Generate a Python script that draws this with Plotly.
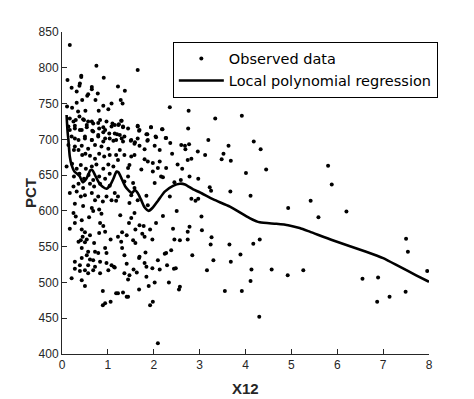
import plotly.graph_objects as go

x_obs = [
    2.76, 3.34, 3.92, 2.75, 3.19, 4.18, 3.63, 4.33, 2.77, 2.68, 2.60, 2.69, 2.96, 3.12, 3.52, 3.48,
    3.68, 2.82, 2.74, 2.62, 4.45, 4.01, 2.78, 2.97, 2.59, 3.22, 3.25, 3.67, 4.11, 2.82, 2.97, 2.91,
    4.93, 3.04, 2.78, 2.74, 3.05, 2.74, 2.57, 3.26, 3.24, 3.65, 4.17, 4.31, 2.84, 3.89, 3.30, 3.68,
    3.16, 4.13, 4.57, 5.26, 4.92, 4.11, 2.57, 3.55, 3.92, 4.30,
    5.80, 5.88, 5.42, 5.59, 6.20, 7.50, 7.54, 6.55, 6.89, 7.96, 7.49, 6.87, 7.14,
    0.17, 0.75, 1.65, 0.12, 0.42, 0.42, 0.39, 0.38, 0.91, 1.22, 0.21, 0.65, 0.65, 1.37, 0.32, 0.57,
    0.55, 0.78, 0.44, 0.73, 1.28, 1.32, 0.32, 0.90, 1.01, 0.11, 0.22, 1.08, 0.80, 2.35, 0.35, 0.51,
    1.30, 1.10, 1.23, 1.33, 1.65, 1.94, 2.19, 1.68, 1.86, 2.05, 2.26, 1.50, 1.59, 1.86, 2.36, 1.20,
    1.03, 0.90, 0.90, 0.79, 0.65, 0.54, 0.48, 0.38, 0.25, 0.28, 0.17, 0.39, 0.66, 0.79, 0.28, 0.50,
    0.65, 0.94, 1.12, 1.30,
    0.26, 0.36, 0.44, 0.51, 0.61, 0.72, 0.81, 0.92, 1.04, 0.10, 0.22, 0.32, 0.41, 0.52, 0.65, 0.75,
    0.90, 1.01, 1.12, 0.26, 0.38, 0.48, 0.58, 0.68, 0.81, 0.94, 1.04, 0.25, 0.36, 0.46, 0.61, 0.70,
    0.83, 1.04, 0.17, 0.30, 0.46, 0.57, 0.68, 0.83, 0.97, 0.14, 0.28, 0.43, 0.54, 0.68, 0.81, 0.94,
    1.08, 0.21, 0.36, 0.50, 0.65, 0.79, 0.90, 1.04, 0.14, 0.28, 0.43, 0.57, 0.72, 0.86, 1.01,
    0.17, 0.32, 0.41, 0.50, 0.65, 0.72, 0.79, 0.89, 0.97, 1.08, 0.28, 0.46, 0.65, 0.68, 0.81, 0.86,
    0.25, 0.30, 0.43, 0.59, 0.28, 0.17, 0.43, 0.50, 0.45, 0.61, 0.83, 0.90, 0.81, 0.94, 1.06, 0.36,
    0.41, 0.54, 0.50, 0.70, 0.43, 0.57, 0.54, 0.72, 0.79, 0.94, 0.97, 0.43, 0.61, 0.68, 0.83, 0.28,
    0.39, 0.57, 0.72, 0.97, 1.08, 0.28, 0.39, 0.50, 0.68, 0.83, 1.01, 0.21, 0.43, 0.50, 0.57, 0.89,
    0.89, 0.94, 1.06, 1.13,
    1.29, 1.15, 1.24, 1.33, 1.44, 1.65, 1.69, 1.94, 2.18, 1.15, 1.26, 1.36, 1.51, 1.65, 1.84, 2.04,
    2.27, 1.18, 1.33, 1.58, 1.69, 1.80, 1.87, 2.02, 2.13, 1.26, 1.18, 1.36, 1.51, 1.58, 1.80, 1.87,
    1.98, 2.13, 1.47, 1.44, 1.22, 1.73, 1.98, 2.09, 2.27, 2.16, 1.44, 1.36, 1.55, 2.02, 2.20, 1.58,
    1.15, 1.22, 1.18, 1.51, 1.65, 1.84, 1.47, 1.87, 1.27, 1.58, 1.46, 1.51, 1.69, 1.78, 1.92, 2.05,
    2.20, 1.60, 1.75, 1.80, 1.97, 1.22, 1.31, 1.41, 1.55, 1.60, 1.29, 1.31, 1.36, 1.69, 1.68, 1.82,
    1.80, 1.84, 2.09, 2.27, 2.29, 2.13, 1.97, 1.41, 1.56, 1.63, 1.47, 1.44, 1.36, 1.15, 1.84, 1.89,
    2.02, 1.68, 1.18, 1.22, 1.33, 1.44, 1.98, 1.92, 2.09,
    2.40, 2.45, 2.35, 2.50, 2.42, 2.38, 2.48, 2.33, 2.55, 2.45, 2.52, 2.44, 2.24, 1.41,
]
y_obs = [
    740, 729, 733, 715, 699, 697, 691, 686, 693, 691, 692, 686, 683, 678, 680, 672,
    670, 673, 671, 659, 658, 653, 648, 645, 643, 633, 628, 627, 621, 617, 617, 614,
    604, 592, 578, 571, 573, 560, 559, 563, 553, 553, 554, 560, 538, 539, 531, 529,
    517, 518, 518, 517, 510, 502, 494, 488, 488, 452,
    663, 637, 614, 591, 599, 561, 543, 505, 507, 516, 487, 473, 480,
    832, 803, 797, 783, 789, 787, 778, 775, 786, 774, 772, 773, 770, 768, 767, 763,
    761, 764, 755, 755, 755, 750, 751, 747, 742, 746, 744, 750, 740, 745, 739, 740,
    726, 722, 720, 717, 718, 717, 714, 712, 707, 703, 702, 698, 696, 698, 695, 707,
    708, 717, 710, 723, 725, 720, 727, 732, 725, 719, 713, 713, 712, 706, 701, 704,
    699, 701, 698, 701,
    685, 685, 678, 680, 677, 673, 680, 676, 678, 662, 666, 659, 664, 659, 662, 665,
    659, 665, 662, 648, 652, 645, 650, 643, 648, 645, 652, 634, 638, 632, 638, 634,
    638, 635, 729, 727, 728, 725, 722, 727, 725, 718, 715, 713, 717, 711, 715, 713,
    718, 704, 699, 701, 699, 704, 697, 701, 692, 690, 691, 687, 692, 690, 687,
    625, 627, 620, 622, 625, 615, 620, 613, 620, 615, 610, 607, 604, 600, 602, 596,
    597, 592, 587, 591, 583, 575, 574, 570, 564, 566, 583, 579, 569, 571, 560, 557,
    559, 560, 556, 555, 548, 543, 538, 543, 541, 548, 541, 534, 532, 531, 529, 529,
    524, 524, 522, 527, 524, 519, 516, 517, 517, 513, 517, 506, 503, 495, 513, 488,
    468, 471, 473, 522,
    726, 720, 721, 718, 715, 719, 713, 717, 714, 708, 706, 704, 699, 701, 707, 704,
    702, 699, 697, 694, 691, 686, 699, 691, 685, 685, 678, 678, 676, 678, 672, 669,
    667, 669, 664, 660, 671, 658, 655, 660, 660, 648, 648, 641, 639, 639, 647, 632,
    625, 620, 614, 622, 615, 621, 611, 608, 594, 597, 583, 590, 580, 579, 574, 583,
    593, 574, 568, 564, 560, 564, 570, 566, 559, 555, 557, 548, 538, 536, 534, 542,
    527, 522, 531, 541, 524, 518, 520, 526, 518, 514, 510, 504, 513, 521, 508, 495,
    500, 490, 485, 485, 486, 480, 473, 468, 415,
    680, 640, 620, 600, 575, 545, 520, 500, 490, 560, 665, 519, 540, 480,
]

# Local polynomial regression curve
x_fit = [0.10, 0.12, 0.14, 0.17, 0.21, 0.27, 0.33, 0.39, 0.45, 0.52, 0.57, 0.62, 0.66, 0.72,
         0.80, 0.88, 0.97, 1.05, 1.12, 1.19, 1.23, 1.30, 1.38, 1.46, 1.52, 1.59, 1.65, 1.72,
         1.80, 1.89, 1.97, 2.10, 2.24, 2.42, 2.57, 2.68, 2.86, 3.00, 3.30, 3.66, 4.09, 4.31,
         4.67, 4.93, 5.18, 5.40, 5.90, 6.63, 7.00, 7.36, 7.72, 8.00]
y_fit = [734, 712, 699, 676, 664, 655, 652, 648, 640, 644, 650, 657, 657, 650,
         640, 634, 631, 636, 645, 655, 654, 645, 634, 628, 625, 629, 625, 616,
         605, 600, 604, 615, 627, 635, 638, 637, 630, 626, 616, 606, 590, 584,
         582, 580, 576, 571, 559, 543, 534, 522, 510, 501]

x_ticks = [0, 1, 2, 3, 4, 5, 6, 7, 8]
y_ticks = [400, 450, 500, 550, 600, 650, 700, 750, 800, 850]

axis_color = "#262626"
font_family = "Liberation Sans, Arial, sans-serif"
legend_family = "DejaVu Sans, Liberation Sans, sans-serif"

fig = go.Figure()
fig.add_trace(go.Scatter(
    x=x_obs, y=y_obs, mode="markers", name="Observed data",
    marker=dict(color="black", size=4, line=dict(width=0)),
))
fig.add_trace(go.Scatter(
    x=x_fit, y=y_fit, mode="lines", name="Local polynomial regression",
    line=dict(color="black", width=2.6, shape="spline", smoothing=0.6),
))

fig.update_layout(
    width=466, height=391,
    margin=dict(l=54, r=45, t=24, b=45),
    paper_bgcolor="white", plot_bgcolor="white",
    font=dict(family=font_family, size=12, color=axis_color),
    showlegend=True,
    legend=dict(
        x=0.302, y=0.97, xanchor="left", yanchor="top",
        bgcolor="white", bordercolor="black", borderwidth=1,
        font=dict(size=14.5, color="black", family=legend_family),
        itemwidth=45, tracegroupgap=0,
    ),
    xaxis=dict(
        range=[0, 8], tickvals=x_ticks, ticktext=[str(v) for v in x_ticks],
        showgrid=False, zeroline=False, showline=True, linecolor=axis_color, linewidth=1,
        ticks="inside", ticklen=5, tickcolor=axis_color,
        tickfont=dict(size=12, color=axis_color), automargin=False,
    ),
    yaxis=dict(
        range=[400, 850], tickvals=y_ticks, ticktext=[str(v) for v in y_ticks],
        showgrid=False, zeroline=False, showline=True, linecolor=axis_color, linewidth=1,
        ticks="inside", ticklen=5, tickcolor=axis_color,
        tickfont=dict(size=12, color=axis_color), automargin=False,
    ),
    annotations=[
        dict(text="<b>X12</b>", xref="paper", yref="paper", x=0.5, y=0,
             xanchor="center", yanchor="middle", yshift=-34, showarrow=False,
             font=dict(size=15, color=axis_color, family=font_family)),
        dict(text="<b>PCT</b>", xref="paper", yref="paper", x=0, y=0.5,
             xanchor="center", yanchor="middle", xshift=-32, textangle=-90, showarrow=False,
             font=dict(size=15, color=axis_color, family=font_family)),
    ],
)

fig.write_html("out.html")
